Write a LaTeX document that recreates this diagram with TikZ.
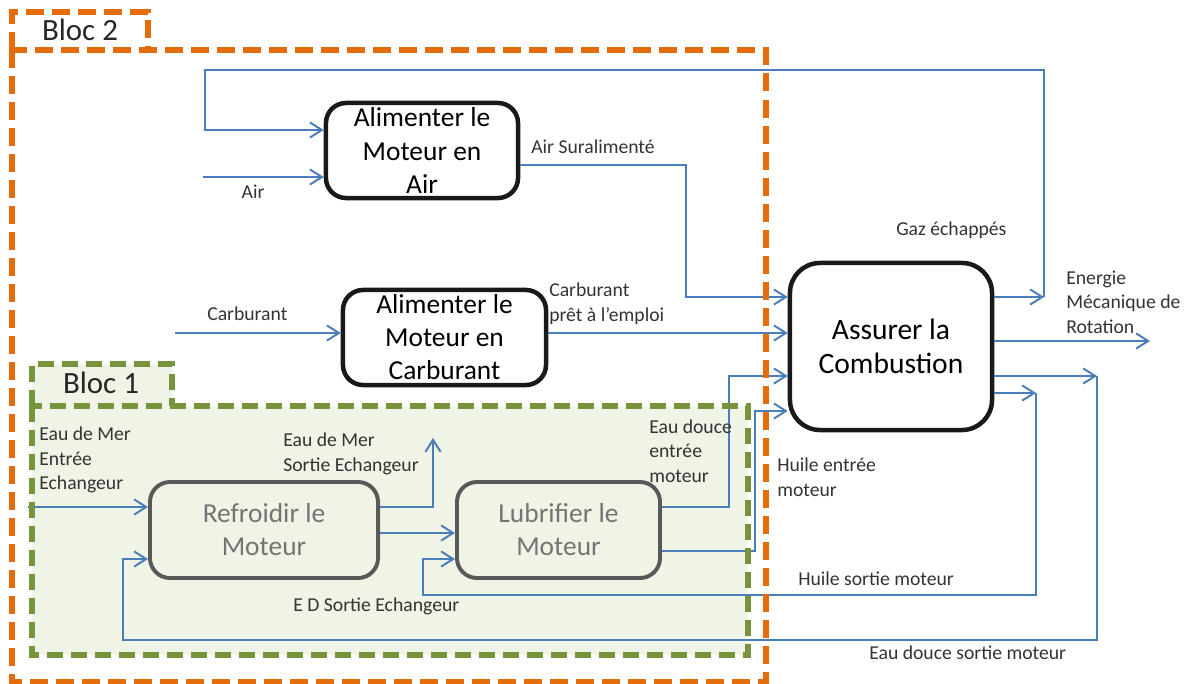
\documentclass[tikz,border=0pt]{standalone}
\usepackage{fontspec}
\setmainfont{Carlito}
\usepackage{xcolor}
\usepackage{tikz}
\usetikzlibrary{arrows.meta}

\definecolor{flowblue}{HTML}{4A7EBB}
\definecolor{orangebloc}{HTML}{E46C0A}
\definecolor{greenbloc}{HTML}{77933C}
\definecolor{greenfill}{HTML}{EFF4E6}
\definecolor{boxgray}{HTML}{595959}
\definecolor{textgray}{HTML}{747474}
\definecolor{labelgray}{HTML}{333333}

\begin{document}
\begin{tikzpicture}[x=0.025cm, y=-0.025cm,
    >={Straight Barb[length=3mm,width=3.8mm]},
    flow/.style={->, draw=flowblue, line width=1.4pt},
    fct/.style={draw=black!90, line width=3.2pt, rounded corners=5mm, align=center,
                inner sep=2pt, font=\fontsize{19.5}{23.5}\selectfont},
    sub/.style={fct, draw=boxgray, line width=2.8pt, fill=greenfill, text=textgray},
    lbl/.style={text=labelgray, align=left, anchor=west, inner sep=0pt,
                font=\fontsize{14}{17.5}\selectfont},
    bloclbl/.style={text=black!85, inner sep=0pt, font=\fontsize{22}{26}\selectfont}]
    \useasboundingbox (0,0) rectangle (1193,684);
    % bloc 1 background
    \fill[greenfill] (32,406) rectangle (748,655) (32,364) rectangle (172,406);
    % functions
    \node[fct, minimum width=4.8cm, minimum height=2.375cm] (air) at (422,150.5)
      {Alimenter le\\Moteur en\\Air};
    \node[fct, minimum width=5.075cm, minimum height=2.375cm] (carb) at (444.5,337.5)
      {Alimenter le\\Moteur en\\Carburant};
    \node[fct, minimum width=5.05cm, minimum height=4.175cm, rounded corners=7.5mm,
          font=\fontsize{21}{24}\selectfont] (comb) at (891,346.5) {Assurer la\\Combustion};
    \node[sub, minimum width=5.7cm, minimum height=2.4cm] (refr) at (264,530)
      {Refroidir le\\Moteur};
    \node[sub, minimum width=5.075cm, minimum height=2.4cm] (lubr) at (558.5,530)
      {Lubrifier le\\Moteur};
    \coordinate (gaz) at (1044,297);
    \coordinate (airin) at (203,177);
    \coordinate (carbin) at (175,333);
    \coordinate (energie) at (1150,341);
    \coordinate (merin) at (28,507);
    \coordinate (merout) at (433,438);
    \coordinate (edout) at (1097,376);
    \coordinate (huileout) at (1036,393);
    % flows
    \draw[flow] (comb.east |- gaz) -- (gaz);
    \draw[flow] (gaz) |- (205,70) |- (air.west |- 0,130);
    \draw[flow] (airin) -- (air.west |- airin);
    \draw[flow] (air.east |- 0,165) -| (686,250) |- (comb.west |- 0,297);
    \draw[flow] (carbin) -- (carb.west |- carbin);
    \draw[flow] (carb.east |- carbin) -- (comb.west |- carbin);
    \draw[flow] (comb.east |- energie) -- (energie);
    \draw[flow] (lubr.east |- 0,507) -| (729,440) |- (comb.west |- 0,376);
    \draw[flow] (lubr.east |- 0,551) -| (755,480) |- (comb.west |- 0,411);
    \draw[flow] (comb.east |- edout) -- (edout);
    \draw[flow] (edout) |- (123,640) |- (refr.west |- 0,559);
    \draw[flow] (comb.east |- huileout) -- (huileout);
    \draw[flow] (huileout) |- (423,595) |- (lubr.west |- 0,559);
    \draw[flow] (merin) -- (refr.west |- merin);
    \draw[flow] (refr.east |- merin) -| (merout);
    \draw[flow] (refr.east |- 0,533) -- (lubr.west |- 0,533);
    % labels
    \node[lbl, anchor=center] (lair) at (253,192) {Air};
    \node[lbl] (lsural) at (531,147) {Air Suralimenté};
    \node[lbl] (lcarb) at (207,314) {Carburant};
    \node[lbl] (lpret) at (549,304) {Carburant\\ prêt à l’emploi};
    \node[lbl] (lgaz) at (896,230) {Gaz échappés};
    \node[lbl] (lener) at (1066,302) {Energie\\Mécanique de\\Rotation};
    \node[lbl] (lede) at (649,451) {Eau douce\\entrée\\ moteur};
    \node[lbl] (lhe) at (777,477) {Huile entrée\\ moteur};
    \node[lbl] (lhs) at (798,579) {Huile sortie moteur};
    \node[lbl] (leds) at (869,653) {Eau douce sortie moteur};
    \node[lbl] (ledse) at (293,606) {E D Sortie Echangeur};
    \node[lbl] (lmerin) at (39,460) {Eau de Mer\\Entrée\\Echangeur};
    \node[lbl] (lmerout) at (283,454) {Eau de Mer\\Sortie Echangeur};
    % blocs
    \draw[greenbloc, line width=3.6pt, dash pattern=on 4mm off 2mm]
      (32,406) rectangle (748,655) (32,406) |- (172,364) -- (172,406);
    \draw[orangebloc, line width=3.8pt, dash pattern=on 4.5mm off 2mm]
      (12,50) rectangle (766,682) (12,50) |- (148,12) -- (148,50);
    \node[bloclbl] (bloc1) at (101,383) {Bloc 1};
    \node[bloclbl] (bloc2) at (80,30) {Bloc 2};
\end{tikzpicture}
\end{document}
